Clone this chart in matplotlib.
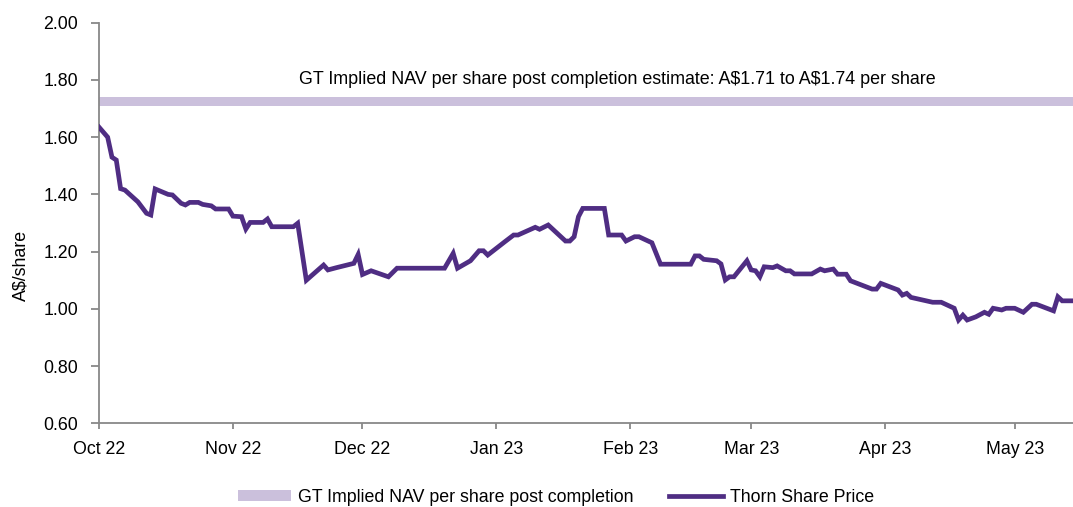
import numpy as np
import pandas as pd
import matplotlib
matplotlib.use('Agg')
import matplotlib.pyplot as plt
import matplotlib.dates as mdates
import matplotlib.transforms as mtransforms
from matplotlib.patches import Patch
from matplotlib.lines import Line2D

# Thorn share price (days after 1 Oct 2022, A$/share)
day_offset = [0, 2, 3, 4, 5, 6, 9, 11, 12, 13, 16, 17, 19, 20, 21, 23, 24, 26, 27, 30,
              31, 33, 34, 35, 38, 39, 40, 45, 46, 48, 52, 53, 55, 59, 60, 61, 63, 67, 69,
              80, 82, 83, 86, 88, 89, 90, 94, 96, 97, 101, 102, 104, 108, 109, 110, 111,
              112, 117, 118, 121, 122, 124, 125, 128, 130, 137, 138, 139, 140, 143, 144,
              145, 146, 147, 150, 151, 152, 153, 154, 156, 157, 159, 160, 161, 165, 167,
              168, 170, 171, 173, 174, 179, 180, 181, 185, 186, 187, 188, 193, 195, 198,
              199, 200, 201, 203, 205, 206, 207, 209, 210, 212, 214, 216, 217, 221, 222,
              223, 226]
price = [1.635, 1.60, 1.53, 1.52, 1.42, 1.415, 1.374, 1.334, 1.328, 1.419, 1.40, 1.398,
         1.369, 1.363, 1.372, 1.372, 1.365, 1.36, 1.349, 1.349, 1.324, 1.322, 1.279, 1.302,
         1.302, 1.314, 1.287, 1.287, 1.299, 1.10, 1.153, 1.136, 1.144, 1.159, 1.19, 1.12,
         1.133, 1.112, 1.142, 1.142, 1.194, 1.142, 1.168, 1.203, 1.203, 1.188, 1.235, 1.258,
         1.258, 1.285, 1.278, 1.293, 1.237, 1.237, 1.252, 1.322, 1.351, 1.351, 1.258, 1.258,
         1.237, 1.252, 1.252, 1.231, 1.156, 1.156, 1.185, 1.185, 1.173, 1.168, 1.157, 1.101,
         1.112, 1.112, 1.168, 1.136, 1.133, 1.112, 1.147, 1.144, 1.150, 1.133, 1.133, 1.122,
         1.122, 1.139, 1.133, 1.139, 1.121, 1.121, 1.098, 1.069, 1.069, 1.089, 1.066, 1.048,
         1.054, 1.040, 1.023, 1.023, 1.002, 0.961, 0.978, 0.961, 0.972, 0.988, 0.981, 1.002,
         0.996, 1.002, 1.002, 0.988, 1.016, 1.016, 0.993, 1.042, 1.028, 1.028]

nav_low, nav_high = 1.71, 1.74
nav_text = 'GT Implied NAV per share post completion estimate: A$1.71 to A$1.74 per share'
legend_labels = ['GT Implied NAV per share post completion', 'Thorn Share Price']
y_ticks = [0.60, 0.80, 1.00, 1.20, 1.40, 1.60, 1.80, 2.00]

start = pd.Timestamp('2022-10-01')
dates = start + pd.to_timedelta(day_offset, unit='D')

plt.rcParams['font.family'] = ['Liberation Sans', 'DejaVu Sans']
plt.rcParams['text.parse_math'] = False
fs = 12.8
nav_color = '#CBC0DC'
line_color = '#4F2D83'
axis_color = '#888888'

fig = plt.figure(figsize=(10.73, 5.07), dpi=100)
ax = fig.add_axes([99 / 1073, 1 - 423.3 / 507, 974 / 1073, (423.3 - 22.7) / 507])

# NAV estimate band and share price line
ax.axhspan(nav_low, nav_high, color=nav_color, lw=0, zorder=1)
ax.plot(dates, price, color=line_color, lw=3.4, solid_joinstyle='miter', zorder=3)

trans = mtransforms.blended_transform_factory(ax.transAxes, ax.transData)
ax.text(0.532, 1.80, nav_text, transform=trans, ha='center', va='center',
        fontsize=12.9, color='black')

ax.set_xlim(start, start + pd.Timedelta(days=225.5))
ax.set_ylim(0.6, 2.0)
ax.set_yticks(y_ticks)
ax.set_yticklabels([f'{t:.2f}' for t in y_ticks])
ax.xaxis.set_major_locator(mdates.MonthLocator())
ax.xaxis.set_major_formatter(mdates.DateFormatter('%b %y'))
ax.set_ylabel('A$/share', fontsize=fs)
ax.yaxis.set_label_coords(-0.071, 0.395)

for s in ['top', 'right']:
    ax.spines[s].set_visible(False)
for s in ['left', 'bottom']:
    ax.spines[s].set_color(axis_color)
    ax.spines[s].set_linewidth(1.3)
ax.tick_params(axis='y', length=6, width=1.3, color=axis_color, labelsize=fs, pad=9)
ax.tick_params(axis='x', length=4, width=1.3, color=axis_color, labelsize=fs, pad=9)

handles = [Patch(facecolor=nav_color, edgecolor='none'),
           Line2D([0], [0], color=line_color, lw=3.4)]
fig.legend(handles, legend_labels, loc='center', bbox_to_anchor=(556 / 1073, 1 - 497 / 507),
           ncol=2, frameon=False, fontsize=fs, handlelength=3.0, handleheight=0.55,
           handletextpad=0.4, columnspacing=2.0)

fig.savefig('out.png', dpi=100)
